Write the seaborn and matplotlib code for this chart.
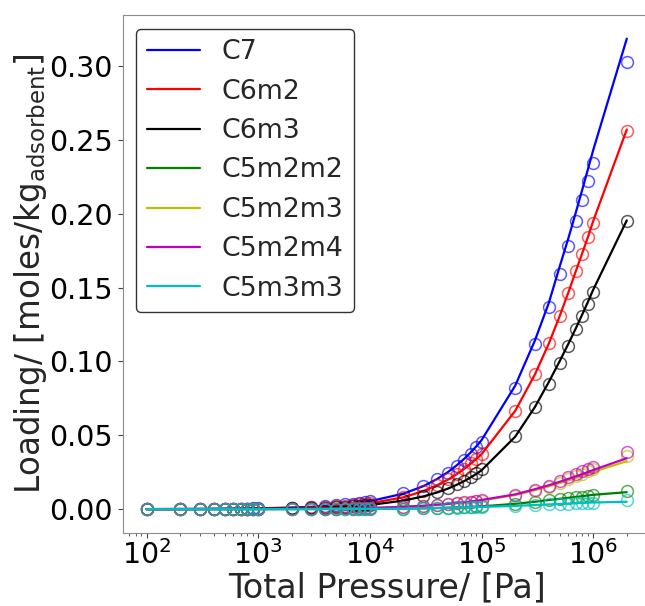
import seaborn as sns
import matplotlib
matplotlib.use("Agg")
import matplotlib.pyplot as plt

# Pressures (Pa) used for both simulation points and fitted curves
pressure = [100, 200, 300, 400, 500, 600, 700, 800, 900, 1000,
            2000, 3000, 4000, 5000, 6000, 7000, 8000, 9000, 10000,
            20000, 30000, 40000, 50000, 60000, 70000, 80000, 90000, 100000,
            200000, 300000, 400000, 500000, 600000, 700000, 800000, 900000, 1000000,
            2000000]

names = ["C7", "C6m2", "C6m3", "C5m2m2", "C5m2m3", "C5m2m4", "C5m3m3"]
colors = ["b", "r", "k", "g", "y", "m", "c"]

# simulated loadings (open circles)
c7_sim = [0.00005, 0.0001, 0.00016, 0.00022, 0.00027, 0.00032, 0.00038, 0.00043, 0.00049, 0.00054,
          0.0011, 0.0016, 0.0022, 0.0027, 0.0032, 0.0038, 0.0043, 0.0048, 0.0054,
          0.0108, 0.0157, 0.0202, 0.0247, 0.0290, 0.0330, 0.0375, 0.0420, 0.0453,
          0.0819, 0.1115, 0.1370, 0.1590, 0.1780, 0.1950, 0.2090, 0.2220, 0.2340,
          0.3030]
c6m2_sim = [0.00004, 0.00008, 0.00012, 0.00016, 0.0002, 0.00024, 0.00028, 0.00032, 0.00036, 0.0004,
            0.0008, 0.0012, 0.0016, 0.0020, 0.0024, 0.0028, 0.0032, 0.0036, 0.0040,
            0.0082, 0.0125, 0.0165, 0.0205, 0.0240, 0.0275, 0.0310, 0.0340, 0.0370,
            0.0666, 0.0915, 0.1126, 0.1305, 0.1465, 0.1610, 0.1730, 0.1840, 0.1940,
            0.2560]
c6m3_sim = [0.00003, 0.00006, 0.00008, 0.00011, 0.00014, 0.00017, 0.0002, 0.00022, 0.00025, 0.00028,
            0.0006, 0.0008, 0.0011, 0.0014, 0.0017, 0.0020, 0.0022, 0.0025, 0.0028,
            0.0062, 0.0090, 0.0118, 0.0142, 0.0168, 0.0192, 0.0218, 0.0245, 0.0275,
            0.0498, 0.0689, 0.0848, 0.0987, 0.1106, 0.1220, 0.1310, 0.1390, 0.1470,
            0.1950]
c5m2m2_sim = [0.000002, 0.000004, 0.000006, 0.000008, 0.00001, 0.000012, 0.000014, 0.000016, 0.000018, 0.00002,
              0.00004, 0.00006, 0.00008, 0.0001, 0.00012, 0.00014, 0.00016, 0.00018, 0.0002,
              0.0004, 0.0006, 0.0008, 0.0010, 0.0012, 0.0014, 0.0016, 0.0018, 0.0020,
              0.0035, 0.0050, 0.0060, 0.0067, 0.0075, 0.0080, 0.0085, 0.0090, 0.0095,
              0.0125]
c5m2m3_sim = [0.000007, 0.000014, 0.000021, 0.000028, 0.000035, 0.000042, 0.000049, 0.000056, 0.000063, 0.00007,
              0.00014, 0.00021, 0.00028, 0.00035, 0.00042, 0.00049, 0.00056, 0.00063, 0.0007,
              0.0016, 0.0023, 0.0029, 0.0034, 0.0039, 0.0044, 0.0049, 0.0053, 0.0057,
              0.0092, 0.0125, 0.0153, 0.0180, 0.0203, 0.0222, 0.0240, 0.0256, 0.0270,
              0.0363]
c5m2m4_sim = [0.000008, 0.000016, 0.000024, 0.000032, 0.00004, 0.000048, 0.000056, 0.000064, 0.000072, 0.00008,
              0.00016, 0.00024, 0.00032, 0.0004, 0.00048, 0.00056, 0.00064, 0.00072, 0.0008,
              0.0017, 0.0024, 0.0030, 0.0036, 0.0041, 0.0046, 0.0051, 0.0056, 0.0060,
              0.0096, 0.0130, 0.0160, 0.0190, 0.0215, 0.0235, 0.0255, 0.0270, 0.0287,
              0.0388]
c5m3m3_sim = [0.0000015, 0.000003, 0.0000045, 0.000006, 0.0000075, 0.000009, 0.0000105, 0.000012, 0.0000135, 0.000015,
              0.00003, 0.000045, 0.00006, 0.000075, 0.00009, 0.000105, 0.00012, 0.000135, 0.00015,
              0.0003, 0.0005, 0.0007, 0.0009, 0.0011, 0.0012, 0.0013, 0.0014, 0.0015,
              0.0022, 0.0028, 0.0032, 0.0035, 0.0037, 0.0039, 0.0040, 0.0041, 0.0042,
              0.0062]

# fitted isotherms (solid lines)
c7_fit = [0.00005, 0.0001, 0.00016, 0.00022, 0.00027, 0.00032, 0.00038, 0.00043, 0.00049, 0.00054,
          0.0011, 0.0016, 0.0022, 0.0027, 0.0032, 0.0038, 0.0043, 0.0048, 0.0054,
          0.0105, 0.0155, 0.0204, 0.0251, 0.0297, 0.0341, 0.0384, 0.0426, 0.0467,
          0.0835, 0.1140, 0.1395, 0.1640, 0.1835, 0.2010, 0.2165, 0.2305, 0.2430,
          0.3185]
c6m2_fit = [0.00004, 0.00008, 0.00012, 0.00016, 0.0002, 0.00024, 0.00028, 0.00032, 0.00036, 0.0004,
            0.0008, 0.0012, 0.0016, 0.0020, 0.0024, 0.0028, 0.0032, 0.0036, 0.0040,
            0.0080, 0.0122, 0.0162, 0.0200, 0.0237, 0.0273, 0.0307, 0.0340, 0.0372,
            0.0665, 0.0910, 0.1120, 0.1305, 0.1468, 0.1612, 0.1735, 0.1845, 0.1950,
            0.2570]
c6m3_fit = [0.00003, 0.00006, 0.00008, 0.00011, 0.00014, 0.00017, 0.0002, 0.00022, 0.00025, 0.00028,
            0.0006, 0.0008, 0.0011, 0.0014, 0.0017, 0.0020, 0.0022, 0.0025, 0.0028,
            0.0058, 0.0086, 0.0113, 0.0139, 0.0165, 0.0190, 0.0215, 0.0239, 0.0263,
            0.0490, 0.0690, 0.0860, 0.1000, 0.1120, 0.1225, 0.1320, 0.1405, 0.1485,
            0.1955]
c5m2m2_fit = [0.000002, 0.000004, 0.000006, 0.000008, 0.00001, 0.000012, 0.000014, 0.000016, 0.000018, 0.00002,
              0.00004, 0.00006, 0.00008, 0.0001, 0.00012, 0.00014, 0.00016, 0.00018, 0.0002,
              0.0004, 0.0006, 0.0008, 0.0010, 0.0012, 0.0013, 0.0015, 0.0017, 0.0019,
              0.0036, 0.0050, 0.0062, 0.0070, 0.0077, 0.0083, 0.0088, 0.0093, 0.0097,
              0.0115]
c5m2m3_fit = [0.000007, 0.000014, 0.000021, 0.000028, 0.000035, 0.000042, 0.000049, 0.000056, 0.000063, 0.00007,
              0.00014, 0.00021, 0.00028, 0.00035, 0.00042, 0.00049, 0.00056, 0.00063, 0.0007,
              0.0015, 0.0022, 0.0028, 0.0034, 0.0040, 0.0045, 0.0050, 0.0054, 0.0059,
              0.0095, 0.0128, 0.0154, 0.0176, 0.0195, 0.0212, 0.0227, 0.0240, 0.0252,
              0.0325]
c5m2m4_fit = [0.000008, 0.000016, 0.000024, 0.000032, 0.00004, 0.000048, 0.000056, 0.000064, 0.000072, 0.00008,
              0.00016, 0.00024, 0.00032, 0.0004, 0.00048, 0.00056, 0.00064, 0.00072, 0.0008,
              0.0016, 0.0023, 0.0030, 0.0036, 0.0042, 0.0047, 0.0052, 0.0057, 0.0062,
              0.0100, 0.0135, 0.0162, 0.0185, 0.0205, 0.0222, 0.0238, 0.0252, 0.0265,
              0.0345]
c5m3m3_fit = [0.0000015, 0.000003, 0.0000045, 0.000006, 0.0000075, 0.000009, 0.0000105, 0.000012, 0.0000135, 0.000015,
              0.00003, 0.000045, 0.00006, 0.000075, 0.00009, 0.000105, 0.00012, 0.000135, 0.00015,
              0.0003, 0.0005, 0.0007, 0.0009, 0.0011, 0.0012, 0.0013, 0.0014, 0.0015,
              0.0022, 0.0028, 0.0032, 0.0035, 0.0038, 0.0040, 0.0042, 0.0044, 0.0045,
              0.0050]

sim = [c7_sim, c6m2_sim, c6m3_sim, c5m2m2_sim, c5m2m3_sim, c5m2m4_sim, c5m3m3_sim]
fit = [c7_fit, c6m2_fit, c6m3_fit, c5m2m2_fit, c5m2m3_fit, c5m2m4_fit, c5m3m3_fit]

sns.set_style("ticks", {"axes.edgecolor": "#8c8c8c", "xtick.color": "#444444", "ytick.color": "#444444"})
plt.rcParams['font.family'] = ['DejaVu Sans']

fig = plt.figure(figsize=(6.45, 6.06), dpi=100)
ax = fig.add_axes([0.190, 0.121, 0.819, 0.854])

for name, c, s, f in zip(names, colors, sim, fit):
    sns.lineplot(x=pressure, y=f, color=c, lw=1.6, label=name, ax=ax)
    sns.lineplot(x=pressure, y=s, color=c, marker="o", ms=8.5, mfc="none", mec=c, mew=1.1,
                 ls="none", alpha=0.65, ax=ax, legend=False)

ax.set_xscale("log")
ax.tick_params(axis="both", labelsize=20.5, labelcolor="black")
ax.tick_params(axis="x", pad=2)
ax.set_xlabel("Total Pressure/ [Pa]", fontsize=24, labelpad=1)
ax.set_ylabel(r"Loading/ [moles/kg$_{\mathrm{adsorbent}}$]", fontsize=23.5, labelpad=0)
ax.set_yticks([0.0, 0.05, 0.10, 0.15, 0.20, 0.25, 0.30])
ax.set_yticklabels(["0.00", "0.05", "0.10", "0.15", "0.20", "0.25", "0.30"])

leg = ax.legend(loc="upper left", fontsize=19.3, frameon=True, fancybox=True, framealpha=1)
leg.get_frame().set_edgecolor("#333333")
leg.get_frame().set_linewidth(1.0)

fig.savefig("out.png", dpi=100)
